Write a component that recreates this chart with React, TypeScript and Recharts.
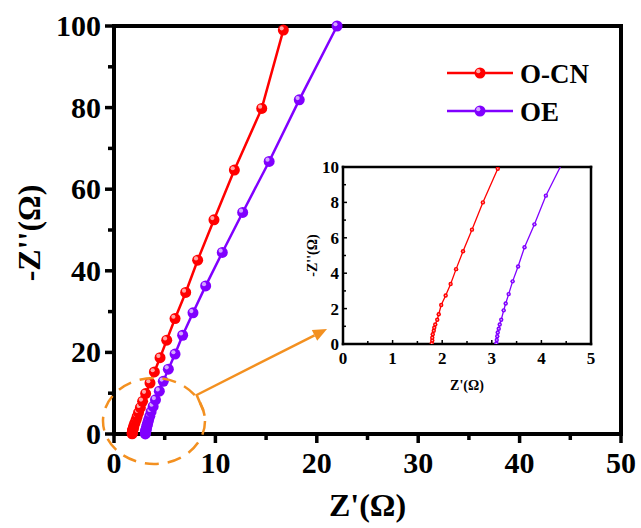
import React from 'react';
import { LineChart, Line, XAxis, YAxis, Legend, Label, ReferenceLine } from 'recharts';

const ocnX = [1.79, 1.8, 1.8, 1.81, 1.83, 1.84, 1.86, 1.9, 1.93, 1.98, 2.07, 2.17, 2.28, 2.42, 2.6, 2.82, 3.12, 3.55, 3.98, 4.54, 5.2, 6.02, 7.07, 8.25, 9.86, 11.87, 14.57, 16.7];
const ocnY = [0.04, 0.2, 0.36, 0.55, 0.75, 0.92, 1.1, 1.37, 1.68, 2.2, 2.74, 3.39, 4.23, 5.24, 6.46, 8.0, 9.9, 12.5, 15.2, 18.7, 23.0, 28.3, 34.7, 42.6, 52.5, 64.7, 79.8, 99.0];
const oeX = [3.09, 3.1, 3.11, 3.12, 3.14, 3.16, 3.19, 3.24, 3.28, 3.34, 3.42, 3.53, 3.66, 3.86, 4.09, 4.47, 4.86, 5.36, 6.02, 6.77, 7.79, 9.04, 10.68, 12.69, 15.3, 18.27, 22.0];
const oeY = [0.03, 0.23, 0.44, 0.65, 0.86, 1.1, 1.37, 1.9, 2.29, 2.82, 3.54, 4.38, 5.47, 6.76, 8.38, 10.5, 12.9, 15.9, 19.6, 24.2, 29.7, 36.3, 44.5, 54.3, 66.8, 81.9, 100.0];

const seriesNames = ['O-CN', 'OE'];
const seriesColors = ['#ff0000', '#8000ff'];

const mainXTicks = [0, 5, 10, 15, 20, 25, 30, 35, 40, 45, 50];
const mainYTicks = [0, 10, 20, 30, 40, 50, 60, 70, 80, 90, 100];
const insetXTicks = [0, 0.5, 1, 1.5, 2, 2.5, 3, 3.5, 4, 4.5, 5];
const insetYTicks = [0, 1, 2, 3, 4, 5, 6, 7, 8, 9, 10];

const ocn = ocnX.map((x, i) => ({ x, y: ocnY[i] }));
const oe = oeX.map((x, i) => ({ x, y: oeY[i] }));
const seriesData = [ocn, oe];

const FONT = '"Liberation Serif", "Times New Roman", serif';
const ORANGE = '#f39020';

const sphereDot = (color: string, r: number) => (props: any) => {
  const { cx, cy, index } = props;
  if (cx == null || cy == null) return <g key={`e-${index}`} />;
  return (
    <g key={`d-${index}`}>
      <circle cx={cx} cy={cy} r={r} fill={color} />
      <circle cx={cx - r * 0.3} cy={cy - r * 0.32} r={r * 0.38} fill="#fff" fillOpacity={0.65} />
    </g>
  );
};

const smallDot = (color: string) => (props: any) => {
  const { cx, cy, index } = props;
  if (cx == null || cy == null) return <g key={`e-${index}`} />;
  return (
    <g key={`s-${index}`}>
      <circle cx={cx} cy={cy} r={2.2} fill={color} />
      <circle cx={cx} cy={cy} r={0.8} fill="#fff" fillOpacity={0.7} />
    </g>
  );
};

const MainXTick = (props: any) => {
  const { x, y, payload } = props;
  const v = payload.value;
  const major = v % 10 === 0;
  return (
    <g>
      <line x1={x} x2={x} y1={y} y2={y + (major ? 9 : 6)} stroke="#000" strokeWidth={3.5} />
      {major && (
        <text x={x} y={y + 39} textAnchor="middle" fontFamily={FONT} fontWeight="bold" fontSize={30} fill="#000">
          {v}
        </text>
      )}
    </g>
  );
};

const MainYTick = (props: any) => {
  const { x, y, payload } = props;
  const v = payload.value;
  const major = v % 20 === 0;
  return (
    <g>
      <line x1={x} x2={x - (major ? 9 : 6)} y1={y} y2={y} stroke="#000" strokeWidth={3.5} />
      {major && (
        <text x={x - 13} y={y + 10} textAnchor="end" fontFamily={FONT} fontWeight="bold" fontSize={30} fill="#000">
          {v}
        </text>
      )}
    </g>
  );
};

const InsetXTick = (props: any) => {
  const { x, y, payload } = props;
  const v = payload.value;
  const major = Number.isInteger(v);
  return (
    <g>
      <line x1={x} x2={x} y1={y} y2={y - (major ? 4 : 3)} stroke="#000" strokeWidth={1.5} />
      {major && (
        <text x={x} y={y + 20} textAnchor="middle" fontFamily={FONT} fontWeight="bold" fontSize={17} fill="#000">
          {v}
        </text>
      )}
    </g>
  );
};

const InsetYTick = (props: any) => {
  const { x, y, payload } = props;
  const v = payload.value;
  const major = v % 2 === 0;
  return (
    <g>
      <line x1={x} x2={x + (major ? 4 : 3)} y1={y} y2={y} stroke="#000" strokeWidth={1.5} />
      {major && (
        <text x={x - 4} y={y + 6} textAnchor="end" fontFamily={FONT} fontWeight="bold" fontSize={17} fill="#000">
          {v}
        </text>
      )}
    </g>
  );
};

const LegendContent = () => (
  <svg width={190} height={80} style={{ overflow: 'visible' }}>
    {seriesNames.map((name, i) => {
      const cy = 23 + i * 38;
      const color = seriesColors[i];
      return (
        <g key={name}>
          <line x1={7} x2={73} y1={cy} y2={cy} stroke={color} strokeWidth={2.5} />
          <circle cx={40} cy={cy} r={5.5} fill={color} />
          <circle cx={38.3} cy={cy - 1.8} r={2.1} fill="#fff" fillOpacity={0.65} />
          <text x={80} y={cy + 10} fontFamily={FONT} fontWeight="bold" fontSize={27} fill="#000">
            {name}
          </text>
        </g>
      );
    })}
  </svg>
);

export default function App() {
  return (
    <div style={{ position: 'absolute', left: 0, top: 0, width: 641, height: 528, background: '#fff' }}>
      <div style={{ position: 'absolute', left: 0, top: 0 }}>
        <LineChart width={641} height={528} margin={{ top: 26, right: 20, bottom: 0, left: 0 }}>
          <XAxis
            type="number"
            dataKey="x"
            domain={[0, 50]}
            ticks={mainXTicks}
            interval={0}
            tickSize={0}
            tickMargin={0}
            tick={MainXTick}
            axisLine={{ stroke: '#000', strokeWidth: 4, strokeLinecap: 'square' }}
            height={94}
          >
            <Label
              content={(p: any) => {
                const vb = p.viewBox || { x: 114, y: 434, width: 507 };
                return (
                  <text x={vb.x + vb.width / 2} y={vb.y + 82} textAnchor="middle" fontFamily={FONT} fontWeight="bold" fontSize={32} fill="#000">
                    Z'(Ω)
                  </text>
                );
              }}
            />
          </XAxis>
          <YAxis
            type="number"
            domain={[0, 100]}
            ticks={mainYTicks}
            interval={0}
            tickSize={0}
            tickMargin={0}
            tick={MainYTick}
            axisLine={{ stroke: '#000', strokeWidth: 4, strokeLinecap: 'square' }}
            width={114}
          >
            <Label
              content={(p: any) => {
                const vb = p.viewBox || { x: 0, y: 26, width: 114, height: 408 };
                const cx = vb.x + 29;
                const cy = vb.y + vb.height / 2 + 3;
                return (
                  <text transform={`translate(${cx},${cy}) rotate(-90)`} textAnchor="middle" dominantBaseline="central" fontFamily={FONT} fontWeight="bold" fontSize={32} fill="#000">
                    -Z''(Ω)
                  </text>
                );
              }}
            />
          </YAxis>
          <ReferenceLine y={100} stroke="#000" strokeWidth={4} strokeLinecap="square" />
          <ReferenceLine x={50} stroke="#000" strokeWidth={4} strokeLinecap="square" />
          {seriesData.map((d, i) => (
            <Line
              key={seriesNames[i]}
              name={seriesNames[i]}
              data={d}
              dataKey="y"
              type="linear"
              stroke={seriesColors[i]}
              strokeWidth={2.5}
              dot={sphereDot(seriesColors[i], 5.5)}
              activeDot={false}
              isAnimationActive={false}
            />
          ))}
          <Legend
            layout="vertical"
            align="center"
            verticalAlign="middle"
            content={LegendContent}
            wrapperStyle={{ position: 'absolute', left: 440, top: 50, width: 190, height: 80 }}
          />
        </LineChart>
      </div>

      <div style={{ position: 'absolute', left: 290, top: 155 }}>
        <LineChart width={320} height={250} margin={{ top: 12, right: 19, bottom: 0, left: 0 }}>
          <XAxis
            type="number"
            dataKey="x"
            domain={[0, 5]}
            ticks={insetXTicks}
            interval={0}
            allowDataOverflow
            tickSize={0}
            tickMargin={0}
            tick={InsetXTick}
            axisLine={{ stroke: '#000', strokeWidth: 2.5, strokeLinecap: 'square' }}
            height={61}
          >
            <Label
              content={(p: any) => {
                const vb = p.viewBox || { x: 53, y: 189, width: 248 };
                return (
                  <text x={vb.x + vb.width / 2} y={vb.y + 46} textAnchor="middle" fontFamily={FONT} fontWeight="bold" fontSize={14} fill="#000">
                    Z'(Ω)
                  </text>
                );
              }}
            />
          </XAxis>
          <YAxis
            type="number"
            domain={[0, 10]}
            ticks={insetYTicks}
            interval={0}
            allowDataOverflow
            tickSize={0}
            tickMargin={0}
            tick={InsetYTick}
            axisLine={{ stroke: '#000', strokeWidth: 2.5, strokeLinecap: 'square' }}
            width={53}
          >
            <Label
              content={(p: any) => {
                const vb = p.viewBox || { x: 0, y: 12, width: 53, height: 177 };
                const cx = vb.x + 22;
                const cy = vb.y + vb.height / 2;
                return (
                  <text transform={`translate(${cx},${cy}) rotate(-90)`} textAnchor="middle" dominantBaseline="central" fontFamily={FONT} fontWeight="bold" fontSize={14} fill="#000">
                    -Z''(Ω)
                  </text>
                );
              }}
            />
          </YAxis>
          <ReferenceLine y={10} stroke="#000" strokeWidth={2.5} strokeLinecap="square" />
          <ReferenceLine x={5} stroke="#000" strokeWidth={2.5} strokeLinecap="square" />
          {seriesData.map((d, i) => (
            <Line
              key={seriesNames[i]}
              name={seriesNames[i]}
              data={d}
              dataKey="y"
              type="linear"
              stroke={seriesColors[i]}
              strokeWidth={1.3}
              dot={smallDot(seriesColors[i])}
              activeDot={false}
              isAnimationActive={false}
            />
          ))}
        </LineChart>
      </div>

      <svg width={641} height={528} style={{ position: 'absolute', left: 0, top: 0, pointerEvents: 'none' }}>
        <ellipse cx={154} cy={421} rx={51} ry={43} fill="none" stroke={ORANGE} strokeWidth={2.5} strokeDasharray="14 9" />
        <polyline points="203.3,410.7 196.7,395 314.5,335.3" fill="none" stroke={ORANGE} strokeWidth={2.5} />
        <polygon points="327,329 317.2,340.7 311.8,329.9" fill={ORANGE} />
      </svg>
    </div>
  );
}
